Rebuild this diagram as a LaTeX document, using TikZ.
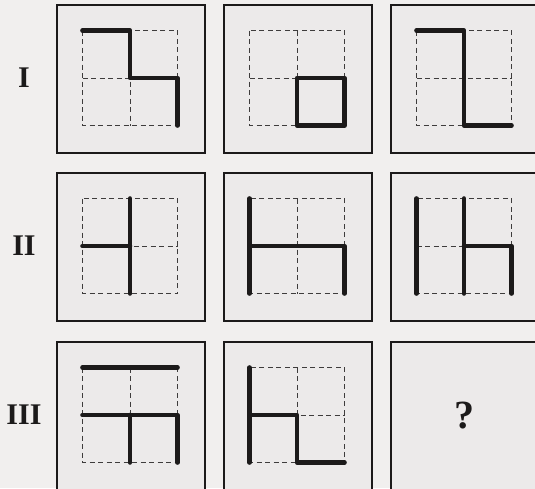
\documentclass[tikz,border=0pt]{standalone}
\usepackage{fontspec}
\setmainfont{Liberation Serif}
\definecolor{bgc}{HTML}{F1EFEE}
\definecolor{boxc}{HTML}{ECEAEA}
\definecolor{ink}{HTML}{1C1A1A}
\tikzset{
  frame/.style={draw=ink, line width=1.8pt, fill=boxc},
  gridline/.style={draw=ink!85, line width=1pt, dash pattern=on 5pt off 3.5pt},
  bold/.style={draw=ink, line width=4.6pt, line cap=round, line join=round},
  rowlabel/.style={font=\bfseries\fontsize{30}{30}\selectfont, text=ink},
}
\newcommand{\cellbox}[3]{% name, x, y (top-left)
  \node[frame, minimum width=148pt, minimum height=148pt, anchor=north west, inner sep=0pt] (#1) at (#2,#3) {};
  \begin{scope}[shift={(#2+26.5,#3+26.5)}]
    \draw[gridline] (0,0) rectangle (95,95);
    \draw[gridline] (47.5,0) -- (47.5,95);
    \draw[gridline] (0,47.5) -- (95,47.5);
  \end{scope}
}
\begin{document}
\begin{tikzpicture}[x=1pt, y=-1pt]
\useasboundingbox (0,0) rectangle (535,488);
\fill[bgc] (0,0) rectangle (535,488);
% row labels
\node[rowlabel] (l1) at (24,78) {I};
\node[rowlabel] (l2) at (24,246) {II};
\node[rowlabel] (l3) at (24,415) {III};
% boxes
\cellbox{a1}{56}{4}
\cellbox{a2}{223}{4}
\cellbox{a3}{390}{4}
\cellbox{b1}{56}{172}
\cellbox{b2}{223}{172}
\cellbox{b3}{390}{172}
\cellbox{c1}{56}{341}
\cellbox{c2}{223}{341}
\node[frame, minimum width=148pt, minimum height=148pt, anchor=north west, inner sep=0pt] (c3) at (390,341) {};
\node[font=\bfseries\fontsize{40}{40}\selectfont, text=ink] (q) at (c3.center) {?};
% figures: grid unit 47.5, origin at box + 26.5
% Row I
\begin{scope}[shift={(82.5,30.5)}, x=47.5pt, y=-47.5pt]
  \draw[bold] (0,0) -- (1,0) -- (1,1) -- (2,1) -- (2,2);
\end{scope}
\begin{scope}[shift={(249.5,30.5)}, x=47.5pt, y=-47.5pt]
  \draw[bold] (1,1) -- (2,1) -- (2,2) -- (1,2) -- cycle;
\end{scope}
\begin{scope}[shift={(416.5,30.5)}, x=47.5pt, y=-47.5pt]
  \draw[bold] (0,0) -- (1,0) -- (1,2) -- (2,2);
\end{scope}
% Row II
\begin{scope}[shift={(82.5,198.5)}, x=47.5pt, y=-47.5pt]
  \draw[bold] (1,0) -- (1,2);
  \draw[bold] (0,1) -- (1,1);
\end{scope}
\begin{scope}[shift={(249.5,198.5)}, x=47.5pt, y=-47.5pt]
  \draw[bold] (0,0) -- (0,2);
  \draw[bold] (0,1) -- (2,1) -- (2,2);
\end{scope}
\begin{scope}[shift={(416.5,198.5)}, x=47.5pt, y=-47.5pt]
  \draw[bold] (0,0) -- (0,2);
  \draw[bold] (1,0) -- (1,2);
  \draw[bold] (1,1) -- (2,1) -- (2,2);
\end{scope}
% Row III
\begin{scope}[shift={(82.5,367.5)}, x=47.5pt, y=-47.5pt]
  \draw[bold] (0,0) -- (2,0);
  \draw[bold] (0,1) -- (2,1) -- (2,2);
  \draw[bold] (1,1) -- (1,2);
\end{scope}
\begin{scope}[shift={(249.5,367.5)}, x=47.5pt, y=-47.5pt]
  \draw[bold] (0,0) -- (0,2);
  \draw[bold] (0,1) -- (1,1) -- (1,2) -- (2,2);
\end{scope}
\end{tikzpicture}
\end{document}
